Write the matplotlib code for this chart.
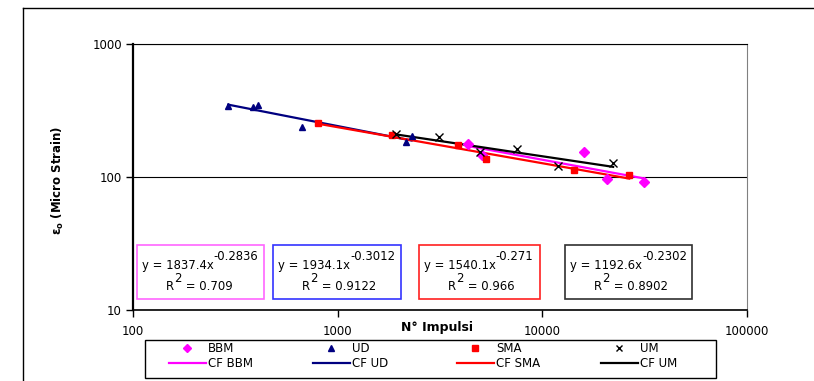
import matplotlib
matplotlib.use('Agg')
import matplotlib.pyplot as plt
from matplotlib.patches import Rectangle
from matplotlib.lines import Line2D
from matplotlib.ticker import FixedLocator, FixedFormatter, NullLocator

plt.rcParams['font.family'] = ['DejaVu Sans']

# ---- data ----
bbm_x = [4345, 5051, 15960, 20600, 31330]
bbm_y = [177, 146, 153.5, 96.6, 92.2]
ud_x = [292, 387, 409, 671, 2148, 2298]
ud_y = [342, 334, 348, 239, 183, 203]
sma_x = [804, 1849, 3882, 5303, 14260, 26580]
sma_y = [256, 206, 174, 137, 112, 103.5]
um_x = [1919, 3126, 4955, 7480, 11970, 22180]
um_y = [209, 201, 155, 161.6, 121.6, 128]

# curve-fit (CF) series values as drawn
cf_bbm_x = [4345, 5051, 15960, 20600, 31330]
cf_bbm_y = [170.9, 163.7, 118.1, 109.9, 97.6]
cf_ud_x = [292, 387, 409, 671, 2148, 2298]
cf_ud_y = [349.9, 321.5, 316.1, 272.3, 191.9, 188.0]
cf_sma_x = [804, 1849, 3882, 5303, 14260, 26580]
cf_sma_y = [251.3, 200.5, 164.0, 150.7, 115.3, 97.3]
cf_um_x = [1919, 3126, 4955, 7480, 11970, 22180]
cf_um_y = [209.2, 187.0, 168.3, 153.0, 137.4, 119.2]

fit_coef = ["1837.4", "1934.1", "1540.1", "1192.6"]
fit_exp = ["-0.2836", "-0.3012", "-0.271", "-0.2302"]
fit_r2 = ["0.709", "0.9122", "0.966", "0.8902"]

x_ticks = [100, 1000, 10000, 100000]
x_tick_labels = ["100", "1000", "10000", "100000"]
y_ticks = [10, 100, 1000]
y_tick_labels = ["10", "100", "1000"]

W, H = 814, 381
fig = plt.figure(figsize=(W / 100, H / 100), dpi=100)


def fx(px):
    return px / W


def fy(py):
    return 1 - py / H


ax = fig.add_axes([fx(133), fy(310), fx(747) - fx(133), fy(44) - fy(310)])
ax.set_xscale('log')
ax.set_yscale('log')
ax.set_xlim(100, 100000)
ax.set_ylim(10, 1000)

c_bbm = '#FF00FF'
c_ud = '#000080'
c_sma = '#FF0000'
c_um = '#000000'

# CF lines
l_cf_ud, = ax.plot(cf_ud_x, cf_ud_y, color=c_ud, lw=1.6, zorder=3)
l_cf_sma, = ax.plot(cf_sma_x, cf_sma_y, color=c_sma, lw=1.6, zorder=3)
l_cf_bbm, = ax.plot(cf_bbm_x, cf_bbm_y, color=c_bbm, lw=1.6, zorder=3)
l_cf_um, = ax.plot(cf_um_x, cf_um_y, color=c_um, lw=1.6, zorder=3)

# points
p_bbm, = ax.plot(bbm_x, bbm_y, ls='none', marker='D', ms=5, color=c_bbm, zorder=4)
p_ud, = ax.plot(ud_x, ud_y, ls='none', marker='^', ms=5, color=c_ud, zorder=4)
p_sma, = ax.plot(sma_x, sma_y, ls='none', marker='s', ms=5, color=c_sma, zorder=4)
p_um, = ax.plot(um_x, um_y, ls='none', marker='x', ms=5.5, mew=1, color=c_um, zorder=4)

ax.xaxis.set_major_locator(FixedLocator(x_ticks))
ax.xaxis.set_major_formatter(FixedFormatter(x_tick_labels))
ax.xaxis.set_minor_locator(NullLocator())
ax.yaxis.set_major_locator(FixedLocator(y_ticks))
ax.yaxis.set_major_formatter(FixedFormatter(y_tick_labels))
ax.yaxis.set_minor_locator(NullLocator())
ax.tick_params(axis='both', direction='out', length=5, width=1, labelsize=8.5,
               color='black', pad=3)
ax.tick_params(axis='x', pad=6)
ax.yaxis.grid(True, color='black', lw=0.8)
ax.set_axisbelow(True)

ax.spines['left'].set_linewidth(1.6)
ax.spines['bottom'].set_linewidth(1.2)
ax.spines['top'].set_linewidth(0.8)
ax.spines['right'].set_linewidth(0.8)
ax.spines['right'].set_color('#808080')

fig.text(fx(437), fy(327), "N° Impulsi", fontsize=9, fontweight='bold',
         ha='center', va='center')
fig.text(fx(58), fy(180), r"$\mathbf{\varepsilon_o}$ (Micro Strain)", fontsize=8.5,
         fontweight='bold', rotation=90, ha='center', va='center')

# outer frame
fig.add_artist(Line2D([fx(23), fx(23)], [fy(8), 0], transform=fig.transFigure,
                      color='black', lw=1))
fig.add_artist(Line2D([fx(23), 1], [fy(8), fy(8)], transform=fig.transFigure,
                      color='black', lw=1))

# equation boxes
box_x = [(137, 264), (273, 401), (419, 540), (565, 692)]
box_ec = ['#FF66FF', '#3333FF', '#FF2020', '#303030']
fig.canvas.draw()
rend = fig.canvas.get_renderer()
fs_eq = 8.4
for (x0, x1), ec, a, b, r2 in zip(box_x, box_ec, fit_coef, fit_exp, fit_r2):
    fig.add_artist(Rectangle((fx(x0), fy(299)), fx(x1) - fx(x0), fy(245) - fy(299),
                             transform=fig.transFigure, fill=False, edgecolor=ec,
                             lw=1.2, zorder=5))
    t1 = fig.text(fx(x0 + 5), fy(265.5), f"y = {a}x", fontsize=fs_eq, ha='left',
                  va='center', zorder=6)
    bb = t1.get_window_extent(rend)
    fig.text(bb.x1 / W, fy(256), b, fontsize=fs_eq, ha='left', va='center',
             zorder=6)
    tr = fig.text(fx(x0 + 29), fy(286), "R", fontsize=fs_eq, ha='left', va='center',
                  zorder=6)
    bb = tr.get_window_extent(rend)
    t2 = fig.text(bb.x1 / W, fy(278), "2", fontsize=fs_eq, ha='left', va='center',
                  zorder=6)
    bb2 = t2.get_window_extent(rend)
    fig.text(bb2.x1 / W, fy(286), f" = {r2}", fontsize=fs_eq, ha='left',
             va='center', zorder=6)

# legend: frame + 4 columns
fig.add_artist(Rectangle((fx(145), fy(378)), fx(716) - fx(145), fy(340) - fy(378),
                         transform=fig.transFigure, fill=False, edgecolor='black',
                         lw=1))
cols = [((p_bbm, l_cf_bbm), ("BBM", "CF BBM")),
        ((p_ud, l_cf_ud), ("UD", "CF UD")),
        ((p_sma, l_cf_sma), ("SMA", "CF SMA")),
        ((p_um, l_cf_um), ("UM", "CF UM"))]
col_x = [169, 313, 457, 601]
for cx, (hs, labs) in zip(col_x, cols):
    fig.legend(hs, labs, loc='upper left', bbox_to_anchor=(fx(cx), fy(342)),
               frameon=False, fontsize=8.5, handlelength=3.1, handletextpad=0.2,
               labelspacing=0.15, borderpad=0, borderaxespad=0, markerscale=0.8,
               numpoints=1)

fig.savefig('out.png', dpi=100)
